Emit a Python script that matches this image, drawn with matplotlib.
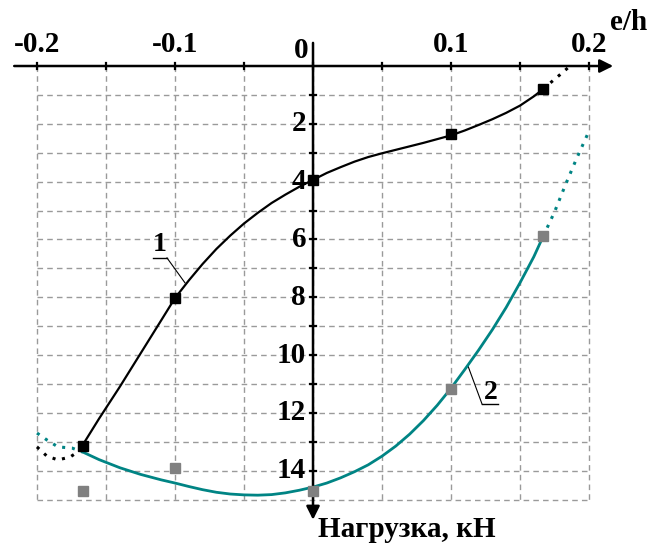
import matplotlib
matplotlib.use('Agg')
import matplotlib.pyplot as plt
import numpy as np

# ---- data ----
# curve 1 (black), solid part
c1_x = [-0.1667, -0.155, -0.14, -0.125, -0.11, -0.1, -0.09, -0.08, -0.07, -0.06,
        -0.05, -0.04, -0.03, -0.02, -0.01, 0.0, 0.01, 0.02, 0.03, 0.04, 0.05,
        0.06, 0.07, 0.08, 0.09, 0.1, 0.11, 0.12, 0.13, 0.14, 0.15, 0.16, 0.1667]
c1_y = [13.1, 12.2, 11.1, 9.95, 8.8, 8.03, 7.42, 6.85, 6.33, 5.87,
        5.45, 5.08, 4.74, 4.45, 4.18, 3.94, 3.7, 3.5, 3.31, 3.15, 3.02,
        2.9, 2.78, 2.66, 2.53, 2.4, 2.23, 2.04, 1.84, 1.62, 1.37, 1.05, 0.8]
# curve 1, dotted extrapolation
c1_left_x = [-0.2, -0.1928, -0.1848, -0.176, -0.1688, -0.1667]
c1_left_y = [13.18, 13.5, 13.63, 13.53, 13.3, 13.1]
c1_right_x = [0.1667, 0.174, 0.179, 0.185]
c1_right_y = [0.8, 0.5, 0.3, 0.05]
# curve 1 measured points
p1_x = [-0.1667, -0.1, 0.0, 0.1, 0.1667]
p1_y = [13.15, 8.03, 3.94, 2.35, 0.8]

# curve 2 (teal), solid part
c2_x = [-0.1667, -0.155, -0.14, -0.125, -0.11, -0.1, -0.09, -0.08, -0.07, -0.06,
        -0.05, -0.04, -0.03, -0.02, -0.01, 0.0, 0.01, 0.02, 0.03, 0.04, 0.05,
        0.06, 0.07, 0.08, 0.09, 0.1, 0.11, 0.12, 0.13, 0.14, 0.15, 0.16, 0.1667]
c2_y = [13.36, 13.62, 13.9, 14.13, 14.32, 14.43, 14.55, 14.66, 14.75, 14.81,
        14.84, 14.85, 14.83, 14.77, 14.68, 14.57, 14.43, 14.25, 14.04, 13.8, 13.5,
        13.15, 12.74, 12.27, 11.74, 11.15, 10.5, 9.83, 9.12, 8.35, 7.5, 6.6, 5.9]
# curve 2, dotted extrapolation
c2_left_x = [-0.2, -0.1928, -0.1848, -0.1746, -0.1667]
c2_left_y = [12.7, 12.94, 13.18, 13.22, 13.36]
c2_right_x = [0.1667, 0.175, 0.183, 0.191, 0.2]
c2_right_y = [5.9, 5.05, 4.1, 3.2, 2.25]
# curve 2 measured points
p2_x = [-0.1667, -0.1, 0.0, 0.1, 0.1667]
p2_y = [14.7, 13.9, 14.7, 11.18, 5.88]

x_ticks = [-0.2, -0.1, 0.1, 0.2]
x_ticklabels = ['-0.2', '-0.1', '0.1', '0.2']
y_ticks = [2, 4, 6, 8, 10, 12, 14]

TEAL = '#008484'
GRAY = '#808080'
FONT = dict(family='Liberation Serif', fontweight='bold', fontsize=21)

################################################################

fig = plt.figure(figsize=(6.51, 5.45), dpi=100)
ax = fig.add_axes([0, 0, 1, 1])
ax.set_xlim(-0.2268, 0.2449)
ax.set_ylim(16.574, -2.284)
ax.axis('off')

# dashed grid
grid_x = np.arange(-0.2, 0.2001, 0.05)
grid_y = np.arange(1, 16)
ax.vlines(grid_x, 0, 15, colors='#9a9a9a', linestyles=(0, (4, 3)), lw=1.0, zorder=1)
ax.hlines(grid_y, -0.2, 0.2, colors='#9a9a9a', linestyles=(0, (4, 3)), lw=1.0, zorder=1)

# axes with arrows
ax.annotate('', xy=(0.2175, 0), xytext=(-0.2165, 0),
            arrowprops=dict(arrowstyle='-|>', lw=1.8, color='black', mutation_scale=20,
                            shrinkA=0, shrinkB=0), zorder=5)
ax.annotate('', xy=(0, 15.7), xytext=(0, -0.8),
            arrowprops=dict(arrowstyle='-|>', lw=1.8, color='black', mutation_scale=20,
                            shrinkA=0, shrinkB=0), zorder=5)
# small crossing ticks
for gx in grid_x:
    ax.plot([gx, gx], [-0.12, 0.12], color='black', lw=1.6, zorder=5)
for gy in grid_y[:-1]:
    ax.plot([-0.0025, 0.0025], [gy, gy], color='black', lw=1.6, zorder=5)

# curves
ax.plot(c2_x, c2_y, color=TEAL, lw=2.0, zorder=3)
ax.plot(c2_left_x, c2_left_y, color=TEAL, lw=2.2, ls=(0, (1, 2.2)), zorder=3)
ax.plot(c2_right_x, c2_right_y, color=TEAL, lw=2.2, ls=(0, (1, 2.2)), zorder=3)
ax.plot(c1_x, c1_y, color='black', lw=1.6, zorder=4)
ax.plot(c1_left_x, c1_left_y, color='black', lw=2.2, ls=(0, (1, 2.2)), zorder=4)
ax.plot(c1_right_x, c1_right_y, color='black', lw=2.2, ls=(0, (1, 2.2)), zorder=4)
ax.plot(p2_x, p2_y, 's', color=GRAY, ms=7, mec=GRAY, zorder=6)
ax.plot(p1_x, p1_y, 's', color='black', ms=6.5, zorder=7)

# tick labels
for t, lab in zip(x_ticks, x_ticklabels):
    ax.text(t, -0.75, lab, ha='center', va='center', **FONT)
ax.text(-0.0035, -0.55, '0', ha='right', va='center', **FONT)
for t in y_ticks:
    ax.text(-0.005, t, str(t), ha='right', va='center', **FONT)
ax.text(0.2155, -1.5, 'e/h', ha='left', va='center', **FONT)
ax.text(0.0035, 16.05, 'Нагрузка, кН', ha='left', va='center', **FONT)

# curve labels with leaders
ax.plot([-0.0928, -0.1058], [7.5, 6.64], color='black', lw=0.8)
ax.plot([-0.116, -0.1058], [6.64, 6.64], color='black', lw=1.0)
ax.text(-0.111, 6.6, '1', ha='center', va='bottom', family='Liberation Serif',
        fontweight='bold', fontsize=20)
ax.plot([0.1123, 0.1225], [10.38, 11.7], color='black', lw=0.8)
ax.plot([0.1225, 0.134], [11.7, 11.7], color='black', lw=1.0)
ax.text(0.1285, 11.72, '2', ha='center', va='bottom', family='Liberation Serif',
        fontweight='bold', fontsize=20)

fig.savefig('out.png', dpi=100, facecolor='white')
